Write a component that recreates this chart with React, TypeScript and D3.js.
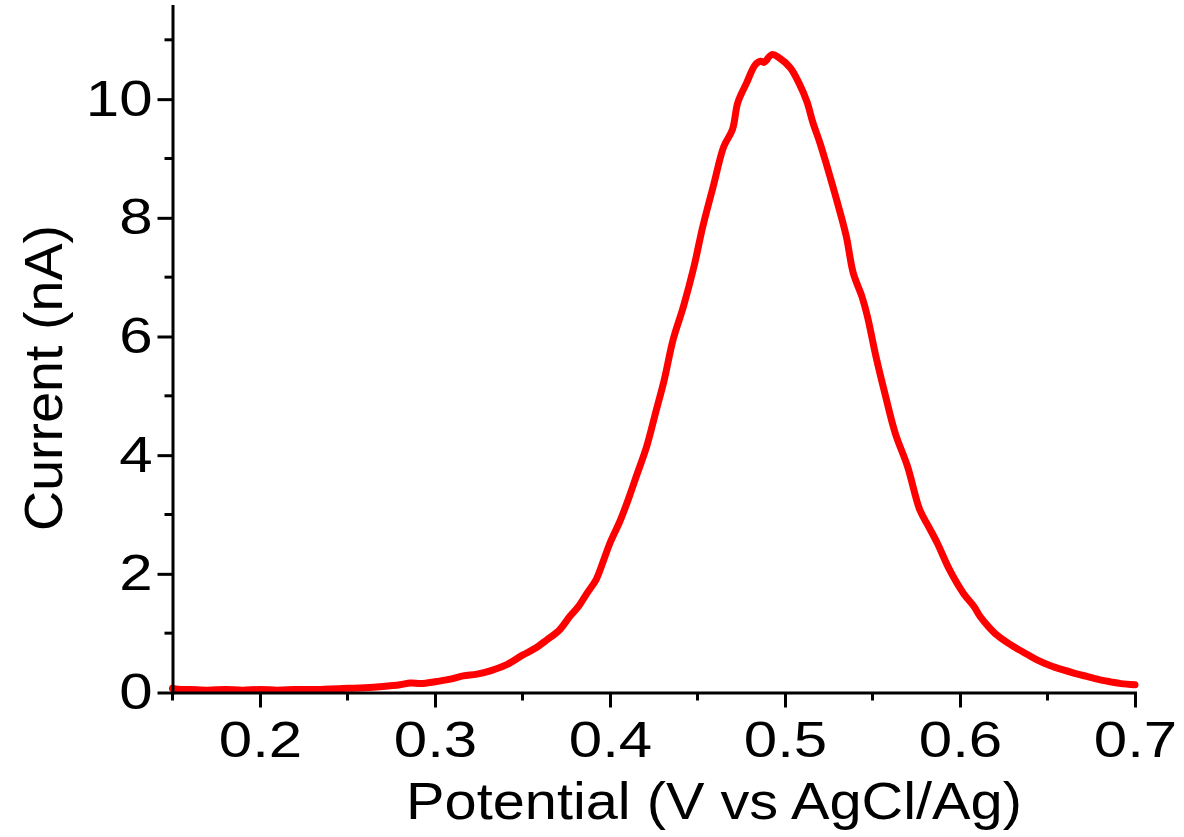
import * as d3 from "d3";
import { useEffect, useRef } from "react";

// potential (V vs AgCl/Ag) and current (nA)
const potential = [
  0.150, 0.155, 0.160, 0.170, 0.180, 0.190, 0.200, 0.210, 0.220, 0.230,
  0.240, 0.250, 0.260, 0.270, 0.280, 0.286, 0.292, 0.300, 0.308, 0.316,
  0.324, 0.332, 0.341, 0.350, 0.357, 0.364, 0.371, 0.377, 0.382, 0.387,
  0.392, 0.396, 0.400, 0.406, 0.411, 0.415, 0.421, 0.426, 0.431, 0.436,
  0.442, 0.448, 0.453, 0.459, 0.465, 0.470, 0.473, 0.478, 0.483, 0.486,
  0.488, 0.4925, 0.497, 0.503, 0.508, 0.5125, 0.516, 0.520, 0.524, 0.530,
  0.535, 0.539, 0.544, 0.547, 0.552, 0.557, 0.563, 0.570, 0.577, 0.582,
  0.587, 0.594, 0.602, 0.608, 0.6115, 0.616, 0.621, 0.626, 0.632, 0.638,
  0.644, 0.651, 0.659, 0.666, 0.6725, 0.679, 0.686, 0.692, 0.700,
];
const current = [
  0.07, 0.05, 0.05, 0.04, 0.05, 0.04, 0.05, 0.04, 0.05, 0.05,
  0.06, 0.07, 0.08, 0.10, 0.13, 0.16, 0.15, 0.18, 0.22, 0.28,
  0.31, 0.37, 0.47, 0.63, 0.74, 0.89, 1.05, 1.28, 1.45, 1.68,
  1.90, 2.20, 2.52, 2.91, 3.30, 3.64, 4.15, 4.71, 5.27, 5.94,
  6.51, 7.18, 7.85, 8.53, 9.20, 9.49, 9.94, 10.27, 10.58, 10.64,
  10.62, 10.75, 10.69, 10.53, 10.27, 9.96, 9.60, 9.26, 8.87, 8.25,
  7.69, 7.07, 6.67, 6.35, 5.66, 5.05, 4.37, 3.81, 3.08, 2.80,
  2.52, 2.07, 1.67, 1.45, 1.28, 1.12, 0.97, 0.86, 0.75, 0.65,
  0.55, 0.46, 0.38, 0.32, 0.27, 0.22, 0.18, 0.15, 0.13,
];

const xMajor = [0.2, 0.3, 0.4, 0.5, 0.6, 0.7];
const xMinor = [0.15, 0.25, 0.35, 0.45, 0.55, 0.65];
const yMajor = [0, 2, 4, 6, 8, 10];
const yMinor = [1, 3, 5, 7, 9, 11];

const W = 1184;
const H = 837;
const margin = { top: 6, right: 49, bottom: 144.5, left: 172.5 };
const FONT = "'Liberation Sans', Arial, sans-serif";
const STRETCH = 1.2; // labels in the source are drawn a bit wide

export default function App() {
  const ref = useRef<SVGSVGElement>(null);

  useEffect(() => {
    const svg = d3.select(ref.current);
    svg.selectAll("*").remove();

    const x = d3.scaleLinear().domain([0.15, 0.7]).range([margin.left, W - margin.right]);
    const y = d3.scaleLinear().domain([0, 11.57]).range([H - margin.bottom, margin.top]);

    // curve
    const line = d3
      .line<number>()
      .x((_, i) => x(potential[i]))
      .y((d) => y(d))
      .curve(d3.curveCatmullRom.alpha(0.5));

    svg
      .append("path")
      .datum(current)
      .attr("d", line)
      .attr("fill", "none")
      .attr("stroke", "#ff0000")
      .attr("stroke-width", 7)
      .attr("stroke-linejoin", "round")
      .attr("stroke-linecap", "round");

    // x axis
    const gx = svg.append("g").attr("transform", `translate(0,${H - margin.bottom})`);
    gx.call(
      d3.axisBottom(x).tickValues(xMajor).tickSize(15).tickSizeOuter(0).tickFormat(d3.format(".1f"))
    );
    gx.call((g) =>
      g
        .selectAll(".minor")
        .data(xMinor)
        .enter()
        .append("line")
        .attr("x1", (d) => x(d))
        .attr("x2", (d) => x(d))
        .attr("y1", 0)
        .attr("y2", 8)
    );

    // y axis
    const gy = svg.append("g").attr("transform", `translate(${margin.left},0)`);
    gy.call(d3.axisLeft(y).tickValues(yMajor).tickSize(15).tickSizeOuter(0));
    gy.call((g) =>
      g
        .selectAll(".minor")
        .data(yMinor)
        .enter()
        .append("line")
        .attr("x1", 0)
        .attr("x2", -8)
        .attr("y1", (d) => y(d))
        .attr("y2", (d) => y(d))
    );

    svg.selectAll(".domain, line").attr("stroke", "#000").attr("stroke-width", 3);
    svg.selectAll(".domain").attr("stroke-linecap", "square");

    gx.selectAll(".tick text")
      .attr("font-family", FONT)
      .attr("font-size", 50)
      .attr("fill", "#000")
      .attr("dy", "0.71em")
      .attr("y", 29)
      .attr("transform", `scale(${STRETCH},1)`);
    gy.selectAll(".tick text")
      .attr("font-family", FONT)
      .attr("font-size", 50)
      .attr("fill", "#000")
      .attr("x", -20 / STRETCH)
      .attr("transform", `scale(${STRETCH},1)`);

    // axis titles
    svg
      .append("text")
      .attr("transform", `translate(714,819) scale(1.11,1)`)
      .attr("text-anchor", "middle")
      .attr("font-family", FONT)
      .attr("font-size", 52)
      .text("Potential (V vs AgCl/Ag)");

    svg
      .append("text")
      .attr("transform", `translate(62,378) rotate(-90) scale(1.05,1)`)
      .attr("text-anchor", "middle")
      .attr("font-family", FONT)
      .attr("font-size", 53)
      .text("Current (nA)");
  }, []);

  return (
    <svg
      ref={ref}
      width={W}
      height={H}
      style={{ position: "absolute", left: 0, top: 0, background: "#fff" }}
    />
  );
}
